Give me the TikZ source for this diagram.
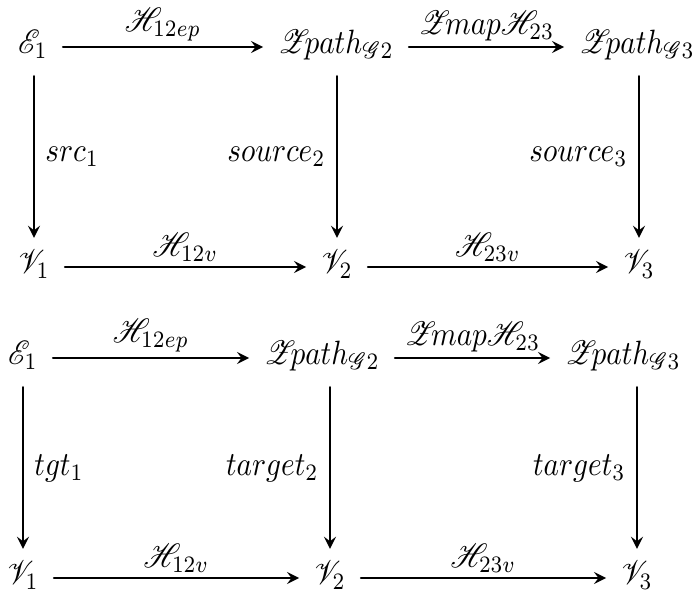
\documentclass[tikz,border=0pt]{standalone}
\usepackage{mathrsfs}
\usepackage{graphicx}
\newcommand{\tx}[1]{\scalebox{1}[1.15]{$#1$}}
\begin{document}
\begin{tikzpicture}[x=0.3413pt, y=-0.3413pt, >=stealth, line join=round, line cap=round,
  obj/.style={inner xsep=5pt, inner ysep=4pt, text height=8pt, text depth=3.5pt},
  lbl/.style={inner xsep=3.5pt, inner ysep=1.5pt}]
\useasboundingbox (0,0) rectangle (694,598);
% source square
\path (33,47) node[obj] (E1) {\tx{\mathscr{E}_1}}
      (336,47) node[obj] (Z2) {\tx{\mathscr{Z}\!path_{\mathscr{G}2}}}
      (637,47) node[obj] (Z3) {\tx{\mathscr{Z}\!path_{\mathscr{G}3}}}
      (34,267) node[obj] (V1) {\tx{\mathscr{V}_1}}
      (337,267) node[obj] (V2) {\tx{\mathscr{V}_2}}
      (639,267) node[obj] (V3) {\tx{\mathscr{V}_3}};
\draw[thick,->] (E1) -- node[above,lbl] {\tx{\mathscr{H}_{12ep}}} (Z2);
\draw[thick,->] (Z2) -- node[above,lbl] {\tx{\mathscr{Z}\!map\mathscr{H}_{23}}} (Z3);
\draw[thick,->] (V1) -- node[above,lbl] {\tx{\mathscr{H}_{12v}}} (V2);
\draw[thick,->] (V2) -- node[above,lbl] {\tx{\mathscr{H}_{23v}}} (V3);
\draw[thick,->] (E1.south -| V1) -- node[right,lbl] {\tx{src_1}} (V1);
\draw[thick,->] (Z2.south -| V2) -- node[left,lbl] {\tx{source_2}} (V2);
\draw[thick,->] (Z3.south -| V3) -- node[left,lbl] {\tx{source_3}} (V3);
% target square
\path (23,358) node[obj] (e1) {\tx{\mathscr{E}_1}}
      (322,358) node[obj] (z2) {\tx{\mathscr{Z}\!path_{\mathscr{G}2}}}
      (623,358) node[obj] (z3) {\tx{\mathscr{Z}\!path_{\mathscr{G}3}}}
      (23,578) node[obj] (v1) {\tx{\mathscr{V}_1}}
      (330,578) node[obj] (v2) {\tx{\mathscr{V}_2}}
      (637,578) node[obj] (v3) {\tx{\mathscr{V}_3}};
\draw[thick,->] (e1) -- node[above,lbl] {\tx{\mathscr{H}_{12ep}}} (z2);
\draw[thick,->] (z2) -- node[above,lbl] {\tx{\mathscr{Z}\!map\mathscr{H}_{23}}} (z3);
\draw[thick,->] (v1) -- node[above,lbl] {\tx{\mathscr{H}_{12v}}} (v2);
\draw[thick,->] (v2) -- node[above,lbl] {\tx{\mathscr{H}_{23v}}} (v3);
\draw[thick,->] (e1.south -| v1) -- node[right,lbl] {\tx{tgt_1}} (v1);
\draw[thick,->] (z2.south -| v2) -- node[left,lbl] {\tx{target_2}} (v2);
\draw[thick,->] (z3.south -| v3) -- node[left,lbl] {\tx{target_3}} (v3);
\end{tikzpicture}
\end{document}
